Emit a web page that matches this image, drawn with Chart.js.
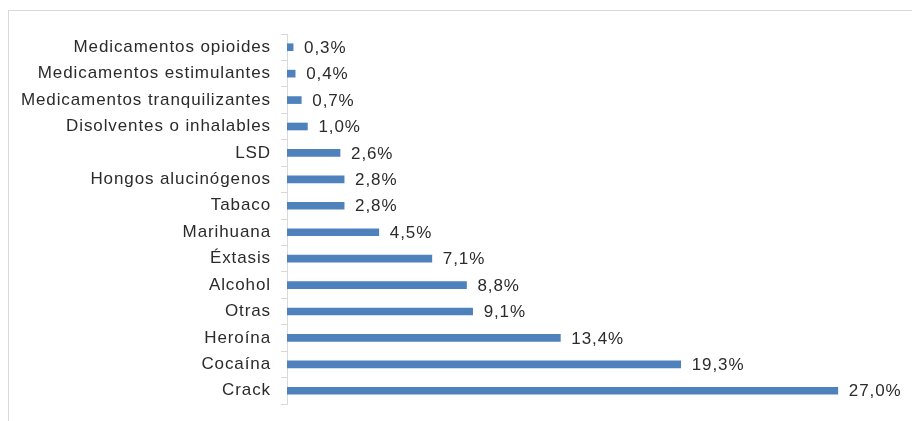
<!DOCTYPE html>
<html>
<head>
<meta charset="utf-8">
<script src="https://cdn.jsdelivr.net/npm/chart.js@4"></script>
<style>
  html, body { margin: 0; padding: 0; background: #fff; }
  #wrap { position: relative; width: 912px; height: 421px; overflow: hidden; }
  #frame {
    position: absolute; left: 8px; top: 10px; width: 903px; height: 430px;
    border-top: 1px solid #d9d9d9; border-left: 1px solid #d9d9d9;
  }
  #chart { position: absolute; left: 0; top: 0; }
</style>
</head>
<body>
<div id="wrap">
  <div id="frame"></div>
  <canvas id="chart" width="912" height="421"></canvas>
</div>
<script>
// ---------------- DATA ----------------
const categories = [
    "Medicamentos opioides",
    "Medicamentos estimulantes",
    "Medicamentos tranquilizantes",
    "Disolventes o inhalables",
    "LSD",
    "Hongos alucinógenos",
    "Tabaco",
    "Marihuana",
    "Éxtasis",
    "Alcohol",
    "Otras",
    "Heroína",
    "Cocaína",
    "Crack"
];
const values = [0.3, 0.4, 0.7, 1.0, 2.6, 2.8, 2.8, 4.5, 7.1, 8.8, 9.1, 13.4, 19.3, 27.0];
const axisMax = 30;

const textColor = "#2b2b2b";
const lineColor = "#d9d9d9";
const barColor = "#4f81bd";
const spacing = "0.9px";

function fmt(v) {
    return v.toFixed(1).replace(".", ",") + "%";
}

// wider letters like the original
const spacingPlugin = {
    id: "spacing",
    beforeLayout(chart) { chart.ctx.letterSpacing = spacing; },
    beforeDraw(chart) { chart.ctx.letterSpacing = spacing; }
};

// ---------------- LABELS ----------------
const valueLabels = {
    id: "valueLabels",
    afterDatasetsDraw(chart) {
        const ctx = chart.ctx;
        const meta = chart.getDatasetMeta(0);
        ctx.save();
        ctx.letterSpacing = spacing;
        ctx.font = "17px 'Liberation Sans', Arial, sans-serif";
        ctx.fillStyle = textColor;
        ctx.textAlign = "left";
        ctx.textBaseline = "middle";
        meta.data.forEach((bar, i) => {
            ctx.fillText(fmt(values[i]), bar.x + 11, bar.y + 1);
        });
        ctx.restore();
    }
};

// ---------------- CHART ----------------
const chart = new Chart(document.getElementById("chart"), {
    type: "bar",
    data: {
        labels: categories,
        datasets: [{
            data: values,
            backgroundColor: barColor,
            barThickness: 7
        }]
    },
    options: {
        indexAxis: "y",
        responsive: false,
        animation: false,
        layout: { padding: { top: 34, bottom: 17, left: 0, right: 13 } },
        plugins: {
            legend: { display: false },
            tooltip: { enabled: false }
        },
        scales: {
            x: { display: false, min: 0, max: axisMax },
            y: {
                afterFit(scale) {
                    scale.width = 287;
                    scale.paddingTop = 0;
                    scale.paddingBottom = 0;
                },
                border: { display: true, color: lineColor, width: 1 },
                grid: {
                    offset: true,
                    drawOnChartArea: false,
                    drawTicks: true,
                    tickLength: 6,
                    color: lineColor
                },
                ticks: {
                    padding: 10,
                    color: textColor,
                    font: { family: "'Liberation Sans', Arial, sans-serif", size: 17 }
                }
            }
        }
    },
    plugins: [spacingPlugin, valueLabels]
});
</script>
</body>
</html>
